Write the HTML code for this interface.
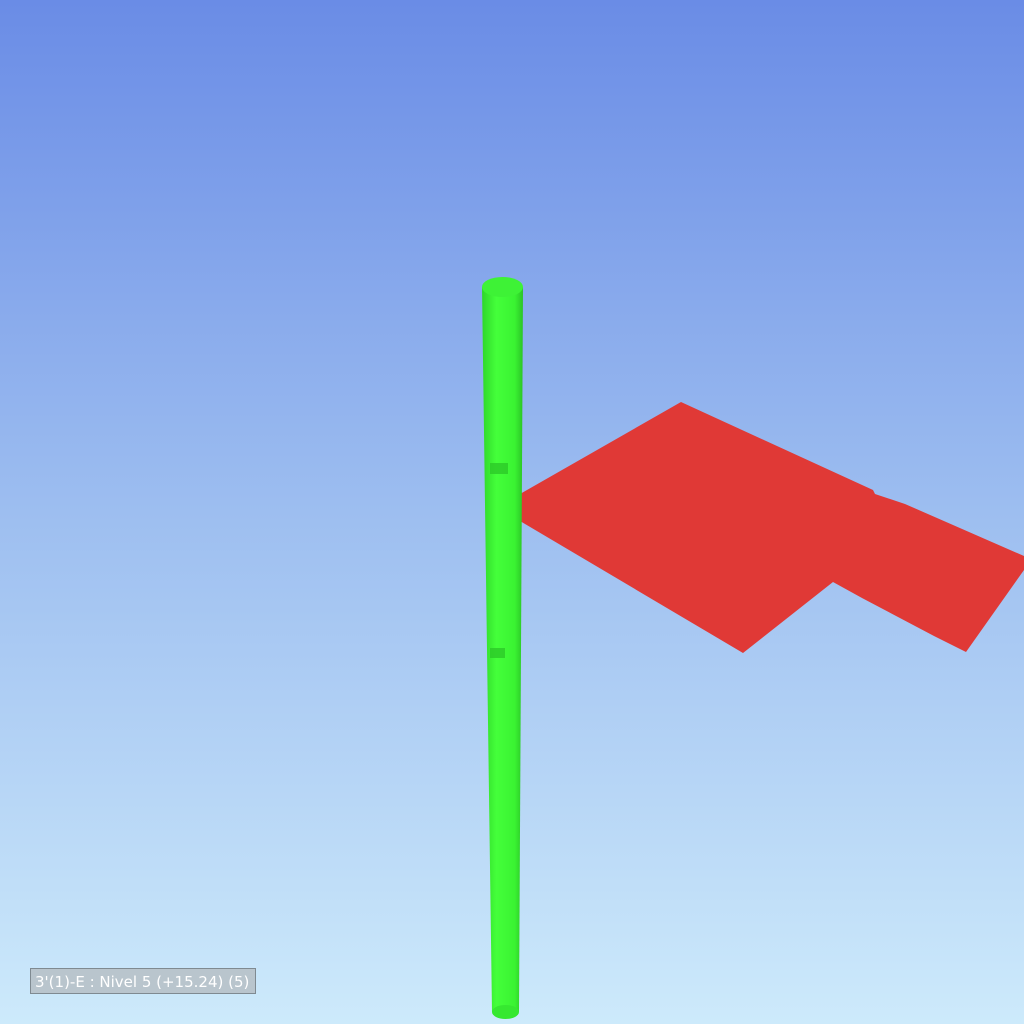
<!DOCTYPE html>
<html><head><meta charset="utf-8"><style>
html,body{margin:0;padding:0;width:1024px;height:1024px;overflow:hidden}
svg{display:block}
</style></head><body>
<svg width="1024" height="1024" viewBox="0 0 1024 1024">
<defs>
<linearGradient id="sky" x1="0" y1="0" x2="0" y2="1">
<stop offset="0" stop-color="#6a8ce6"/>
<stop offset="0.5" stop-color="#9dbef0"/>
<stop offset="1" stop-color="#cdeafb"/>
</linearGradient>
<linearGradient id="col" x1="0" y1="0" x2="1" y2="0">
<stop offset="0" stop-color="#2fd62a"/>
<stop offset="0.35" stop-color="#44ff3a"/>
<stop offset="0.8" stop-color="#3af332"/>
<stop offset="1" stop-color="#2bc426"/>
</linearGradient>
</defs>
<rect width="1024" height="1024" fill="url(#sky)"/>
<polygon fill="#e03936"
 points="520,494 681,402 873,490 875,494 905,504 1024,556 1024,570 966,652 934,636 862,598 833,582 743,653 520,521"/>
<g>
<polygon fill="url(#col)" points="482,287 523,287 519,1012 492,1012"/>
<ellipse cx="505.5" cy="1012" rx="13.5" ry="7" fill="#36e830"/>
<ellipse cx="502.5" cy="287" rx="20.5" ry="10" fill="#3ef236"/>
<rect x="490" y="463" width="18" height="11" fill="#2cc928" opacity="0.8"/>
<rect x="490" y="648" width="15" height="10" fill="#2cc928" opacity="0.8"/>
</g>
<g>
<rect x="30.5" y="968.5" width="225" height="25" fill="#b9c5cd" stroke="#7f8a91" stroke-width="1"/>
<text x="35" y="987" font-family="'DejaVu Sans','Liberation Sans',sans-serif" font-size="15" fill="#ffffff">3'(1)-E : Nivel 5 (+15.24) (5)</text>
</g>
</svg>
</body></html>
